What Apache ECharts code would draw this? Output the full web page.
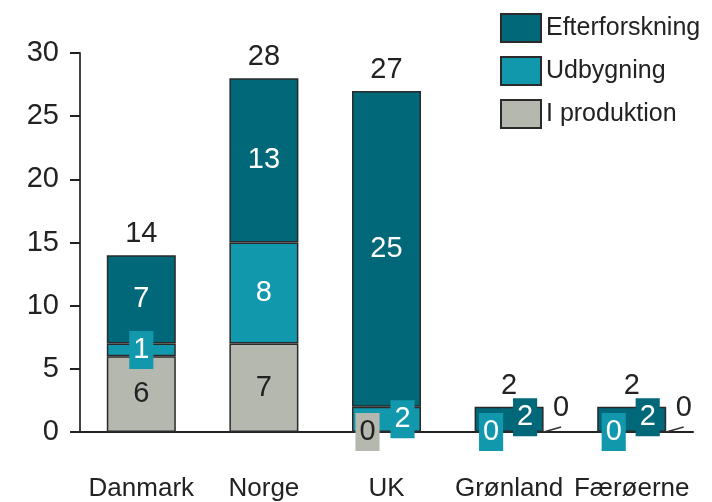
<!DOCTYPE html>
<html>
<head>
<meta charset="utf-8">
<script src="https://cdn.jsdelivr.net/npm/echarts@6/dist/echarts.min.js"></script>
<style>
  html, body { margin: 0; padding: 0; background: #fff; }
  #chart { width: 712px; height: 502px; }
</style>
</head>
<body>
<div id="chart"></div>
<script>
// data
var categories = ['Danmark', 'Norge', 'UK', 'Grønland', 'Færøerne'];
var efterforskning = [7, 13, 25, 2, 2];
var udbygning = [1, 8, 2, 0, 0];
var produktion = [6, 7, 0, 0, 0];
var totals = [14, 28, 27, 2, 2];
var yMin = 0, yMax = 30, yStep = 5;

var FONT = '"Liberation Sans", Arial, sans-serif';
var C_DARK = '#006878';
var C_MID = '#1298ad';
var C_GRAY = '#b4b8ae';
var EDGE = '#2a2a2a';
var NUM_SIZE = 29;
var BAR_W = 69;

// per-point label tweaks (where labels are pushed aside in the original)
var labelTweaks = {
    'I produktion': {
        3: { backgroundColor: 'transparent', color: '#222' },
        4: { backgroundColor: 'transparent', color: '#222' }
    },
    'Udbygning': {
        2: { offset: [16, 0] },
        3: { offset: [-18, 0] },
        4: { offset: [-18, 0] }
    },
    'Efterforskning': {
        3: { offset: [16, -2] },
        4: { offset: [16, -2] }
    }
};

function makeData(name, values) {
    return values.map(function (v, i) {
        var t = labelTweaks[name] && labelTweaks[name][i];
        return t ? { value: v, label: t } : v;
    });
}

// visible stacked bars
function barSeries(name, values, color) {
    return {
        name: name,
        type: 'bar',
        stack: 'bars',
        barWidth: BAR_W,
        barGap: '-100%',
        data: values,
        itemStyle: { color: color, borderColor: EDGE, borderWidth: 1.5 },
        label: { show: false },
        z: 2,
        emphasis: { disabled: true }
    };
}

// invisible copy of the stack that only carries the labels, kept above all bars
function labelSeries(name, values, color, textColor) {
    return {
        name: name,
        type: 'bar',
        stack: 'labels',
        barWidth: BAR_W,
        barGap: '-100%',
        data: makeData(name, values),
        itemStyle: { color: 'transparent', borderWidth: 0 },
        label: {
            show: true,
            position: 'inside',
            color: textColor,
            fontSize: NUM_SIZE,
            lineHeight: 30,
            fontFamily: FONT,
            backgroundColor: color,
            padding: [4, 4, 4, 4]
        },
        z: 10,
        emphasis: { disabled: true }
    };
}

var myChart = echarts.init(document.getElementById('chart'));

var prodLabels = labelSeries('I produktion', produktion, C_GRAY, '#222');
// the zero labels are pushed aside; the far-right ones get a small leader line
prodLabels.labelLine = { show: true, length2: 0, lineStyle: { color: '#333', width: 1.5 } };
prodLabels.labelLayout = function (p) {
    if (p.dataIndex === 2) {
        return { dx: -19, dy: 0 };
    }
    if (p.dataIndex >= 3) {
        return { dx: 52, dy: -24 };
    }
};

var option = {
    backgroundColor: '#fff',
    animation: false,
    grid: { left: 80, right: 19, top: 53, bottom: 70, containLabel: false },
    legend: {
        data: ['Efterforskning', 'Udbygning', 'I produktion'],
        orient: 'vertical',
        left: 495,
        top: 8,
        itemWidth: 40,
        itemHeight: 28,
        itemGap: 13,
        icon: 'rect',
        textStyle: { fontSize: 25, fontFamily: FONT, color: '#222', padding: [0, 0, 0, 0] }
    },
    xAxis: {
        type: 'category',
        data: categories,
        axisLine: { lineStyle: { color: '#222', width: 2 } },
        axisTick: { show: false },
        axisLabel: { interval: 0, fontSize: 26, fontFamily: FONT, color: '#222', margin: 44 }
    },
    yAxis: {
        type: 'value',
        min: yMin,
        max: yMax,
        interval: yStep,
        axisLine: { show: true, lineStyle: { color: '#444', width: 2 } },
        axisTick: { show: true, length: 10, lineStyle: { color: '#222', width: 2 } },
        axisLabel: { fontSize: NUM_SIZE, fontFamily: FONT, color: '#222', margin: 21 },
        splitLine: { show: false }
    },
    series: [
        barSeries('I produktion', produktion, C_GRAY),
        barSeries('Udbygning', udbygning, C_MID),
        barSeries('Efterforskning', efterforskning, C_DARK),
        prodLabels,
        labelSeries('Udbygning', udbygning, C_MID, '#fff'),
        labelSeries('Efterforskning', efterforskning, C_DARK, '#fff'),
        {
            name: 'Total',
            type: 'line',
            data: totals,
            symbol: 'circle',
            symbolSize: 1,
            lineStyle: { width: 0, color: 'transparent' },
            itemStyle: { color: 'transparent' },
            label: {
                show: true,
                position: 'top',
                distance: 6,
                fontSize: NUM_SIZE,
                fontFamily: FONT,
                color: '#222'
            },
            z: 11,
            emphasis: { disabled: true }
        }
    ]
};

myChart.setOption(option);
</script>
</body>
</html>
